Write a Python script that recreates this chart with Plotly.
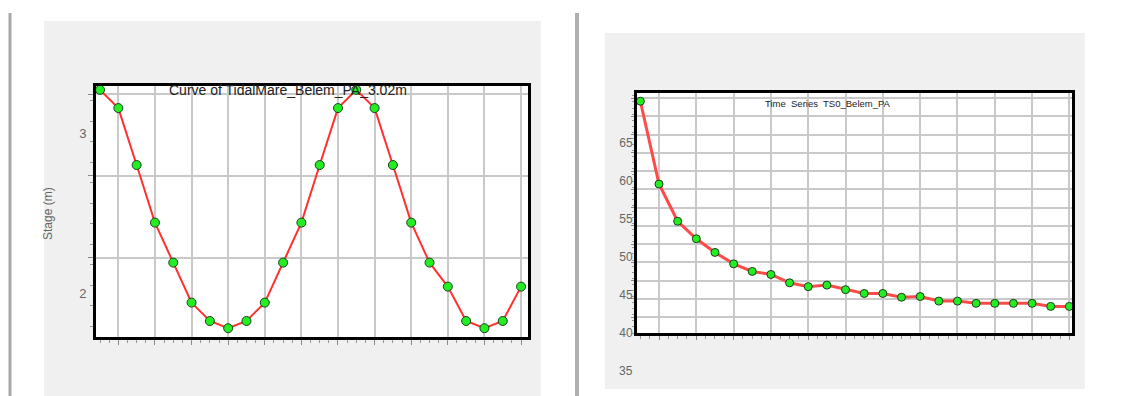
import plotly.graph_objects as go

# ---------------- data ----------------
steps = list(range(1, 25))
stage_m = [3.27, 3.156, 2.80, 2.44, 2.19, 1.94, 1.825, 1.78, 1.825, 1.94, 2.19, 2.44,
           2.80, 3.156, 3.27, 3.156, 2.80, 2.44, 2.19, 2.04, 1.825, 1.78, 1.825, 2.04]
series_ts = [70.5, 59.6, 54.7, 52.4, 50.6, 49.1, 48.1, 47.7, 46.6, 46.1, 46.3, 45.7,
             45.2, 45.2, 44.7, 44.8, 44.2, 44.2, 43.9, 43.9, 43.9, 43.9, 43.5, 43.5]
left_ticks = [2, 3]
right_ticks = [40, 45, 50, 55, 60, 65]
right_extra_tick = 35
left_title = "Curve of TidalMare_Belem_PA_3.02m"
right_title = "Time  Series  TS0_Belem_PA"
left_ylabel = "Stage (m)"

W, H = 1126, 396
def px(x):
    return x / W
def py(y):
    return 1 - y / H

LINE_RED = "#ff3030"
GREEN = "#22ee22"
GRID = "#c9c9c9"
LABEL_GRAY = "#666666"
SANS = "Liberation Sans, Arial"

fig = go.Figure()

fig.add_trace(go.Scatter(
    x=steps, y=stage_m, xaxis="x", yaxis="y", mode="lines+markers",
    line=dict(color=LINE_RED, width=2),
    marker=dict(color=GREEN, size=9, line=dict(color="#1d3d1d", width=1)),
    cliponaxis=False, showlegend=False, hoverinfo="x+y"))
fig.add_trace(go.Scatter(x=[], y=[], xaxis="x", yaxis="y3", showlegend=False))

fig.add_trace(go.Scatter(
    x=steps, y=series_ts, xaxis="x2", yaxis="y2", mode="lines+markers",
    line=dict(color="#ff4a4a", width=3),
    marker=dict(color=GREEN, size=8, line=dict(color="#1d3d1d", width=1)),
    cliponaxis=False, showlegend=False, hoverinfo="x+y"))
fig.add_trace(go.Scatter(x=[], y=[], xaxis="x2", yaxis="y4", showlegend=False))

frame = dict(showline=True, mirror=True, linecolor="black", linewidth=2.5,
             zeroline=False, automargin=False)

L_YR = [1.725, 3.294]
R_YR = [40, 71.58]

fig.update_layout(
    template="none",
    width=W, height=H, margin=dict(l=0, r=0, t=0, b=0, pad=0, autoexpand=False),
    paper_bgcolor="white", plot_bgcolor="white",
    font=dict(family=SANS, color=LABEL_GRAY),
    xaxis=dict(domain=[px(96), px(528)], range=[0.78, 24.38], anchor="y",
               tick0=2, dtick=2, showgrid=True, gridcolor=GRID, gridwidth=2,
               ticks="outside", ticklen=5, tickcolor="#888", showticklabels=False,
               minor=dict(dtick=0.5, ticks="outside", ticklen=3, tickcolor="#999", showgrid=False),
               **frame),
    yaxis=dict(domain=[py(337), py(86)], range=L_YR, anchor="x",
               tick0=2.219, dtick=0.5125, showgrid=True, gridcolor=GRID, gridwidth=2,
               ticks="outside", ticklen=5, tickcolor="#888", showticklabels=False,
               minor=dict(dtick=0.128125, ticks="outside", ticklen=3, tickcolor="#999", showgrid=False),
               **frame),
    yaxis3=dict(overlaying="y", anchor="x", side="left", range=L_YR,
                tickvals=left_ticks, ticktext=[str(v) for v in left_ticks],
                showgrid=False, zeroline=False, showline=False, automargin=False,
                ticks="outside", ticklen=6, tickcolor="rgba(0,0,0,0)",
                tickfont=dict(size=13, color=LABEL_GRAY, family=SANS)),
    xaxis2=dict(domain=[px(637), px(1072)], range=[0.82, 24.14], anchor="y2",
                tick0=2, dtick=2, showgrid=True, gridcolor=GRID, gridwidth=2,
                ticks="outside", ticklen=4, tickcolor="#888", showticklabels=False,
                minor=dict(dtick=0.5, ticks="outside", ticklen=3, tickcolor="#999", showgrid=False),
                **frame),
    yaxis2=dict(domain=[py(333), py(93)], range=R_YR, anchor="x2",
                tick0=42.1, dtick=2.4, showgrid=True, gridcolor=GRID, gridwidth=2,
                ticks="outside", ticklen=3, tickcolor="#888", showticklabels=False,
                minor=dict(dtick=0.8, ticks="outside", ticklen=2, tickcolor="#999", showgrid=False),
                **frame),
    yaxis4=dict(overlaying="y2", anchor="x2", side="left", range=R_YR,
                tickvals=right_ticks, ticktext=[str(v) for v in right_ticks],
                showgrid=False, zeroline=False, showline=False, automargin=False,
                ticks="outside", ticklen=1, tickcolor="rgba(0,0,0,0)",
                tickfont=dict(size=12, color=LABEL_GRAY, family=SANS)),
)

shapes = [
    # separators
    dict(type="line", xref="paper", yref="paper", x0=px(10), x1=px(10), y0=0, y1=py(13),
         line=dict(color="#a8a8a8", width=3), layer="below"),
    dict(type="line", xref="paper", yref="paper", x0=px(577), x1=px(577), y0=0, y1=py(13),
         line=dict(color="#b0b0b0", width=4), layer="below"),
    # gray panels
    dict(type="rect", xref="paper", yref="paper", x0=px(44), x1=px(541), y0=0, y1=py(21),
         fillcolor="#f0f0f0", line=dict(width=0), layer="below"),
    dict(type="rect", xref="paper", yref="paper", x0=px(605), x1=px(1085), y0=py(389), y1=py(33),
         fillcolor="#f0f0f0", line=dict(width=0), layer="below"),
    # white plot areas
    dict(type="rect", xref="x domain", yref="y domain", x0=0, x1=1, y0=0, y1=1,
         fillcolor="white", line=dict(width=0), layer="below"),
    dict(type="rect", xref="x2 domain", yref="y2 domain", x0=0, x1=1, y0=0, y1=1,
         fillcolor="white", line=dict(width=0), layer="below"),
]
fig.update_layout(shapes=shapes)

fig.add_annotation(text=left_title, xref="x domain", yref="y domain", x=0.444, y=0.985,
                   xanchor="center", yanchor="middle", showarrow=False,
                   font=dict(size=14, color="#222222", family=SANS))
fig.add_annotation(text=right_title, xref="x2 domain", yref="y2 domain", x=0.44, y=0.955,
                   xanchor="center", yanchor="middle", showarrow=False,
                   font=dict(size=9.5, color="#222222", family=SANS))
fig.add_annotation(text=left_ylabel, xref="paper", yref="paper", x=px(48), y=py(214),
                   xanchor="center", yanchor="middle", textangle=-90, showarrow=False,
                   font=dict(size=12, color=LABEL_GRAY, family=SANS))
fig.add_annotation(text=str(right_extra_tick), xref="x2 domain", yref="y2 domain", x=0,
                   y=(right_extra_tick - R_YR[0]) / (R_YR[1] - R_YR[0]),
                   xanchor="right", yanchor="middle", xshift=-2, showarrow=False,
                   font=dict(size=12, color=LABEL_GRAY, family=SANS))

fig.write_html("out.html", config={"displayModeBar": False},
               post_script="document.body.style.margin='0';document.body.style.overflow='hidden';")
